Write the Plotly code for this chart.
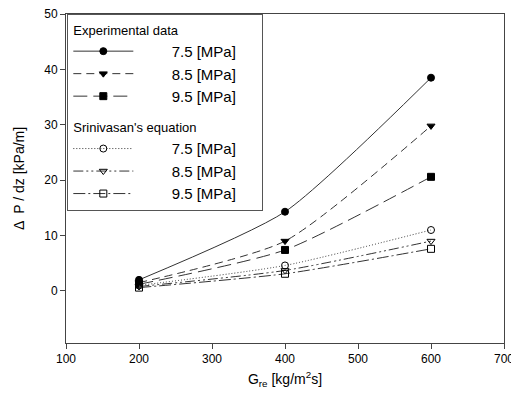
import plotly.graph_objects as go

g_re = [200, 400, 600]

exp_75 = [2.0, 14.3, 38.5]
exp_85 = [1.5, 9.0, 29.8]
exp_95 = [1.2, 7.4, 20.6]
sri_75 = [1.0, 4.6, 11.0]
sri_85 = [0.8, 3.7, 9.0]
sri_95 = [0.6, 3.1, 7.6]

labels = ["7.5 [MPa]", "8.5 [MPa]", "9.5 [MPa]"]
x_ticks = [100, 200, 300, 400, 500, 600, 700]
y_ticks = [0, 10, 20, 30, 40, 50]

series = [
    (exp_75, "exp", labels[0], "solid", "circle"),
    (exp_85, "exp", labels[1], "8px,5px", "triangle-down"),
    (exp_95, "exp", labels[2], "14px,6px", "square"),
    (sri_75, "sri", labels[0], "1px,2px", "circle-open"),
    (sri_85, "sri", labels[1], "10px,3px,2px,3px,2px,3px", "triangle-down-open"),
    (sri_95, "sri", labels[2], "12px,3px,2px,3px", "square-open"),
]
group_titles = {"exp": "Experimental data", "sri": "Srinivasan's equation"}

pad = "\u00a0" * 8
tail = "\u00a0" * 5

fig = go.Figure()
for vals, grp, lab, dash, sym in series:
    fig.add_trace(go.Scatter(
        x=g_re, y=vals, mode="lines+markers", name=pad + lab + tail,
        line=dict(color="#333333", width=1, dash=dash, shape="spline", smoothing=0.6),
        marker=dict(symbol=sym, size=7, color="black",
                    line=dict(color="black", width=1)),
        legendgroup=grp,
        legendgrouptitle=dict(text=group_titles[grp], font=dict(size=13, color="black")),
    ))

# The page places the figure with an 8px body margin; sizes below account for it.
fig.update_layout(
    width=511, height=386,
    margin=dict(l=58, r=15, t=6, b=51, autoexpand=False),
    paper_bgcolor="white", plot_bgcolor="white",
    font=dict(family="Liberation Sans, Arial, sans-serif", size=12, color="black"),
    showlegend=True,
    legend=dict(
        x=0.003, y=1.0, xanchor="left", yanchor="top",
        bordercolor="#555555", borderwidth=1, bgcolor="white",
        traceorder="grouped", tracegroupgap=10,
        font=dict(size=15, color="black"),
        itemwidth=60,
    ),
    xaxis=dict(
        range=[100, 700], tickvals=x_ticks, showgrid=False, zeroline=False,
        showline=True, linecolor="#444444", linewidth=1, mirror=True,
        ticks="outside", ticklen=5, tickcolor="#444444", automargin=False,
        tickfont=dict(size=12), ticklabeloverflow="allow",
        title=dict(text="G<sub>re</sub> [kg/m<sup>2</sup>s]", font=dict(size=14), standoff=8),
    ),
    yaxis=dict(
        range=[-9.4, 50], tickvals=y_ticks, showgrid=False, zeroline=False,
        showline=True, linecolor="#444444", linewidth=1, mirror=True,
        ticks="outside", ticklen=5, tickcolor="#444444", automargin=False,
        tickfont=dict(size=12), ticklabeloverflow="allow",
        title=dict(text="Δ  P / dz [kPa/m]", font=dict(size=14), standoff=16),
    ),
)

fig.write_html("out.html")
